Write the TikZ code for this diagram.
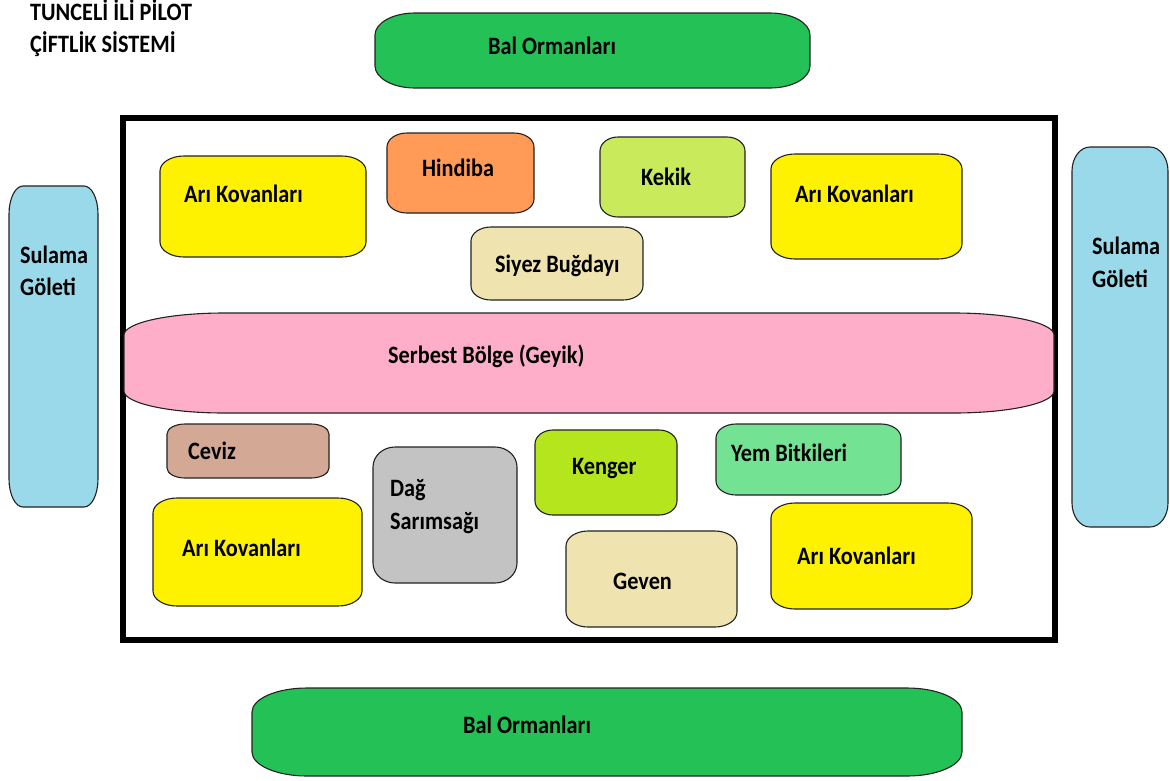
\documentclass[tikz,border=0pt]{standalone}
\usepackage{fontspec}
\newfontfamily\lbl{Carlito}[FakeStretch=0.89]
\definecolor{balgreen}{HTML}{23C156}
\definecolor{pond}{HTML}{99D9EA}
\definecolor{hive}{HTML}{FFF200}
\definecolor{chicory}{HTML}{FF9B57}
\definecolor{thyme}{HTML}{C9EA5B}
\definecolor{wheat}{HTML}{EFE4B0}
\definecolor{meadow}{HTML}{FFAEC9}
\definecolor{walnut}{HTML}{D3A995}
\definecolor{garlic}{HTML}{C3C3C3}
\definecolor{gundelia}{HTML}{B5E61D}
\definecolor{fodder}{HTML}{73E393}
\definecolor{edge}{HTML}{222222}

% box with elliptical corners: name, x1, y1, x2, y2, rx, ry, fill colour
\newcommand\rrbox[8]{%
  \draw[boxline, fill=#8] (#2+#6,#3) -- (#4-#6,#3)
    arc[start angle=270, end angle=360, x radius=#6, y radius=#7] -- (#4,#5-#7)
    arc[start angle=0, end angle=90, x radius=#6, y radius=#7] -- (#2+#6,#5)
    arc[start angle=90, end angle=180, x radius=#6, y radius=#7] -- (#2,#3+#7)
    arc[start angle=180, end angle=270, x radius=#6, y radius=#7] -- cycle;
  \node[boxarea, minimum width={(#4-#2)*1pt}, minimum height={(#5-#3)*1pt}]
    (#1) at ({(#2+#4)/2},{(#3+#5)/2}) {};%
}

\begin{document}
\begin{tikzpicture}[x=1pt, y=-1pt,
  boxline/.style={draw=edge, line width=1.1pt},
  boxarea/.style={inner sep=0pt, draw=none},
  lab/.style={anchor=base west, inner sep=0pt, font=\lbl\bfseries\fontsize{25}{31}\selectfont, text=black},
  frame/.style={draw=black, line width=6pt}]
\useasboundingbox (0,0) rectangle (1170,780);

% title
\node[lab] (title1) at (30,20) {TUNCELİ İLİ PİLOT};
\node[lab] (title2) at (30,52) {ÇİFTLİK SİSTEMİ};

% outer ring: forests and ponds
\rrbox{balTop}{375}{13}{810}{88}{40}{22}{balgreen}
\rrbox{balBot}{252}{688}{962}{776}{55}{24}{balgreen}
\rrbox{pondL}{9}{186}{98}{507}{14}{28}{pond}
\rrbox{pondR}{1072}{147}{1168}{527}{18}{24}{pond}

% farm boundary
\node[frame, inner sep=0pt, minimum width=932pt, minimum height=522pt] (farm) at (589,379) {};

% upper field
\rrbox{hiveTL}{160}{156}{366}{257}{24}{15}{hive}
\rrbox{hindiba}{387}{133}{534}{213}{20}{14}{chicory}
\rrbox{kekik}{600}{137}{745}{217}{18}{14}{thyme}
\rrbox{hiveTR}{771}{154}{962}{259}{24}{15}{hive}
\rrbox{siyez}{471}{227}{643}{300}{20}{14}{wheat}

% free range strip
\rrbox{serbest}{124}{313}{1054}{413}{100}{22}{meadow}

% lower field
\rrbox{ceviz}{167}{424}{329}{478}{18}{10}{walnut}
\rrbox{dag}{373}{447}{517}{583}{22}{20}{garlic}
\rrbox{kenger}{535}{430}{677}{515}{18}{14}{gundelia}
\rrbox{yem}{716}{424}{901}{495}{20}{14}{fodder}
\rrbox{hiveBL}{153}{498}{362}{606}{24}{15}{hive}
\rrbox{geven}{566}{531}{737}{627}{22}{15}{wheat}
\rrbox{hiveBR}{771}{503}{972}{609}{24}{15}{hive}

% labels
\node[lab] (tBalTop) at (488,54) {Bal Ormanları};
\node[lab] (tBalBot) at (463,733) {Bal Ormanları};
\node[lab] (tPondL1) at (20,263) {Sulama};
\node[lab] (tPondL2) at (20,295) {Göleti};
\node[lab] (tPondR1) at (1092,254) {Sulama};
\node[lab] (tPondR2) at (1092,287) {Göleti};
\node[lab] (tHiveTL) at (184,202) {Arı Kovanları};
\node[lab] (tHindiba) at (422,176) {Hindiba};
\node[lab] (tKekik) at (641,185) {Kekik};
\node[lab] (tHiveTR) at (795,202) {Arı Kovanları};
\node[lab] (tSiyez) at (495,272) {Siyez Buğdayı};
\node[lab] (tSerbest) at (388,363) {Serbest Bölge (Geyik)};
\node[lab] (tCeviz) at (188,459) {Ceviz};
\node[lab] (tDag1) at (390,496) {Dağ};
\node[lab] (tDag2) at (390,529) {Sarımsağı};
\node[lab] (tKenger) at (572,474) {Kenger};
\node[lab] (tYem) at (731,461) {Yem Bitkileri};
\node[lab] (tHiveBL) at (182,556) {Arı Kovanları};
\node[lab] (tGeven) at (613,589) {Geven};
\node[lab] (tHiveBR) at (797,564) {Arı Kovanları};
\end{tikzpicture}
\end{document}
